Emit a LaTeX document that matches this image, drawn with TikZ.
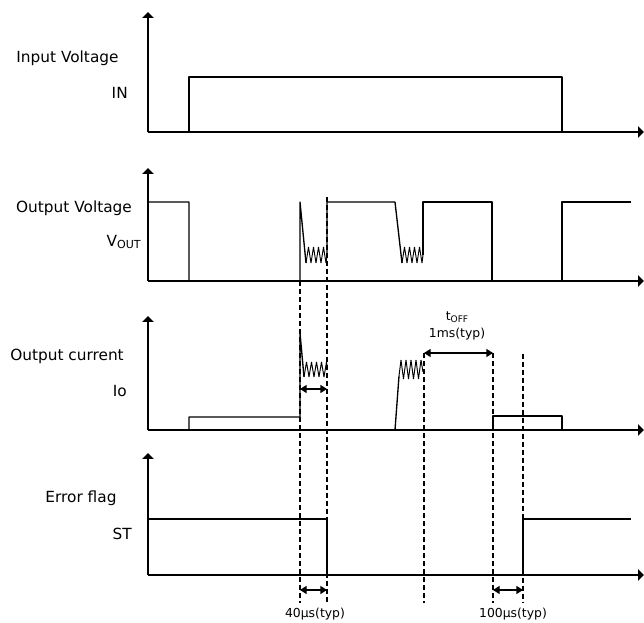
\documentclass[tikz,border=0pt]{standalone}
\usepackage{fontspec}
\setmainfont{DejaVu Sans}
\usetikzlibrary{arrows.meta}
\begin{document}
\begin{tikzpicture}[x=0.75pt,y=-0.75pt,
  sig/.style={line width=1pt, line join=round},
  zig/.style={line width=0.7pt, line join=miter, miter limit=3},
  axis/.style={line width=1pt, -{Triangle[length=4.5pt,width=8.5pt]}},
  guide/.style={line width=0.8pt, dash pattern=on 3.75pt off 2.25pt},
  dim/.style={line width=1pt, {Triangle[length=5pt,width=6pt]}-{Triangle[length=5pt,width=6pt]}},
  lbl/.style={font=\fontsize{11.5}{13}\selectfont, inner sep=0pt},
  tlbl/.style={font=\fontsize{9.3}{11}\selectfont, inner sep=0pt}]
\useasboundingbox (0,0) rectangle (644,623);

% ---------- axes ----------
\foreach \yb/\yt in {132/12, 281/168, 430/316, 575/453}{
  \draw[axis] (148,\yb) -- (148,\yt);
  \draw[axis] (148,\yb) -- (644,\yb);
}

% ---------- labels ----------
\node[lbl] (l1) at (67.5,58) {Input Voltage};
\node[lbl, anchor=east] (l1s) at (128,93) {IN};
\node[lbl] (l2) at (74,208) {Output Voltage};
\node[lbl, anchor=east] (l2s) at (141,242) {V\raisebox{-0.3ex}{\fontsize{8.3}{9}\selectfont OUT}};
\node[lbl] (l3) at (67,356) {Output current};
\node[lbl, anchor=east] (l3s) at (127,391) {Io};
\node[lbl] (l4) at (81,498) {Error flag};
\node[lbl, anchor=east] (l4s) at (132,534) {ST};

% ---------- panel 1: input voltage ----------
\draw[sig] (148,132) -- (189,132) -- (189,77) -- (562,77) -- (562,132);

% ---------- panel 2: output voltage ----------
\draw[sig] (148,202) -- (189,202) -- (189,281) -- (300,281) -- (300,202) -- (306,263);
\draw[zig] (306,263) -- (308.5,247) -- (311,263) -- (313.5,247) -- (316,263)
  -- (318.5,247) -- (321,263) -- (323.5,247) -- (326,263) -- (327,255);
\draw[sig] (327,255) -- (327,202) -- (395,202) -- (402,263);
\draw[zig] (402,263) -- (404.5,247) -- (407,263) -- (409.5,247) -- (412,263)
  -- (414.5,247) -- (417,263) -- (419.5,247) -- (422,263) -- (423,255);
\draw[sig] (423,255) -- (423,202) -- (492,202) -- (492,281) -- (562,281) -- (562,202) -- (631,202);

% ---------- panel 3: output current ----------
\draw[sig] (148,430) -- (189,430) -- (189,417) -- (300,417) -- (300,333) -- (304,377);
\draw[zig] (304,377) -- (306.5,362) -- (309,377) -- (311.5,362) -- (314,377)
  -- (316.5,362) -- (319,377) -- (321.5,362) -- (324,377) -- (326.5,362) -- (327,366);
\draw[sig] (395,430) -- (399,376);
\draw[zig] (399,376) -- (401,360) -- (403.5,379) -- (406,360)
  -- (408.5,379) -- (411,360) -- (413.5,379) -- (416,360) -- (418.5,379)
  -- (421,360) -- (423,372);
\draw[sig] (493,430) -- (493,416) -- (562,416) -- (562,430);

% ---------- panel 4: error flag ----------
\draw[sig] (148,519) -- (327,519) -- (327,575);
\draw[sig] (523,575) -- (523,519) -- (631,519);

% ---------- guides ----------
\coordinate (g1t) at (300,281); \coordinate (g1b) at (300,603);
\coordinate (g2t) at (327,197); \coordinate (g2b) at (327,603);
\coordinate (g3t) at (424,353); \coordinate (g3b) at (424,603);
\coordinate (g4t) at (493,353); \coordinate (g4b) at (493,603);
\coordinate (g5t) at (523,354); \coordinate (g5b) at (523,603);
\foreach \g in {1,...,5}{\draw[guide] (g\g t) -- (g\g b);}

% ---------- dimensions ----------
\coordinate (d1a) at (300,389); \coordinate (d1b) at (327,389);
\coordinate (d2a) at (424,353); \coordinate (d2b) at (493,353);
\coordinate (d3a) at (300,590); \coordinate (d3b) at (327,590);
\coordinate (d4a) at (493,590); \coordinate (d4b) at (523,590);
\draw[dim] (d1a) -- (d1b);
\draw[dim] (d2a) -- (d2b);
\draw[dim] (d3a) -- (d3b);
\draw[dim] (d4a) -- (d4b);

\node[tlbl] (toff) at (457,317) {t\raisebox{-0.3ex}{\fontsize{6.8}{7}\selectfont OFF}};
\node[tlbl] (toffv) at (457,334) {1ms(typ)};
\node[tlbl] (t40) at (315,614) {40μs(typ)};
\node[tlbl] (t100) at (513,614) {100μs(typ)};
\end{tikzpicture}
\end{document}
